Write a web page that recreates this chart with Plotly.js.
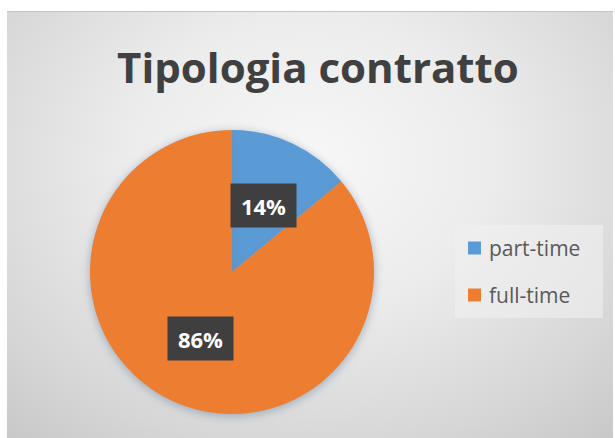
<!DOCTYPE html>
<html><head><meta charset="utf-8">
<script src="https://cdn.plot.ly/plotly-3.0.1.min.js"></script>
<style>
html,body{margin:0;padding:0;background:#fff;width:615px;height:438px;overflow:hidden;}
#bg{position:absolute;left:7px;top:11px;width:606px;height:427px;
background:radial-gradient(ellipse 75% 85% at 50% 35%, #f7f7f7 0%, #ececec 40%, #d6d6d6 80%, #c9c9c9 100%);
border-top:1px solid #c4c4c4;}
#chart{position:absolute;left:0;top:0;width:615px;height:438px;}
#chart .pielayer path.surface{filter:drop-shadow(0px 2px 5px rgba(110,135,160,0.6));}
</style></head>
<body>
<div id="bg"></div>
<div id="chart"></div>
<script>
const labels = ["part-time", "full-time"];
const values = [14, 86];
const colors = ["#5B9BD5", "#ED7D31"];
const titleText = "Tipologia contratto";

const W = 615, H = 438;
const cx = 232, cy = 272, R = 142;
const domX = [(cx - R) / W, (cx + R) / W];
const domY = [1 - (cy + R) / H, 1 - (cy - R) / H];

const total = values.reduce((a, b) => a + b, 0);
let cum = 0;
const annotations = values.map((v, i) => {
  const mid = (cum + v / 2) / total * 2 * Math.PI;
  cum += v;
  const rr = 0.52 * R;
  const px = cx + rr * Math.sin(mid);
  const py = cy - rr * Math.cos(mid);
  return {
    x: px / W, y: 1 - py / H, xref: "paper", yref: "paper",
    text: Math.round(v / total * 100) + "%",
    showarrow: false,
    font: {family: "Open Sans, sans-serif", size: 22, color: "#ffffff", weight: "bold"},
    bgcolor: "#3f3f3f", borderpad: 7, width: 51, height: 29, align: "center", valign: "middle",
    xanchor: "center", yanchor: "middle"
  };
});

// Legend (manual, for Excel-like spacing)
const legX0 = 455, legY0 = 225, legX1 = 603, legY1 = 318;
const itemY0 = 248, itemGap = 47;
const shapes = [{
  type: "rect", xref: "paper", yref: "paper",
  x0: legX0 / W, x1: legX1 / W, y0: 1 - legY1 / H, y1: 1 - legY0 / H,
  fillcolor: "rgba(240,240,240,0.6)", line: {width: 0}, layer: "below"
}];
labels.forEach((lab, i) => {
  const yc = itemY0 + i * itemGap;
  shapes.push({
    type: "rect", xref: "paper", yref: "paper",
    x0: 468 / W, x1: 481 / W, y0: 1 - (yc + 6.5) / H, y1: 1 - (yc - 6.5) / H,
    fillcolor: colors[i], line: {width: 0}
  });
  annotations.push({
    x: 487 / W, y: 1 - yc / H, xref: "paper", yref: "paper",
    text: lab, showarrow: false, xanchor: "left", yanchor: "middle",
    font: {family: "Open Sans, sans-serif", size: 21, color: "#595959"}
  });
});

const trace = {
  type: "pie", labels: labels, values: values,
  marker: {colors: colors, line: {width: 0}},
  sort: false, direction: "clockwise", rotation: 0,
  textinfo: "none", hoverinfo: "label+percent",
  domain: {x: domX, y: domY}
};

const layout = {
  width: W, height: H,
  margin: {l: 0, r: 0, t: 0, b: 0},
  paper_bgcolor: "rgba(0,0,0,0)", plot_bgcolor: "rgba(0,0,0,0)",
  title: {text: "<b>" + titleText + "</b>", x: 0.517, xanchor: "center", y: 0.843, yanchor: "middle",
    font: {family: "Open Sans, sans-serif", size: 42, color: "#404040"}},
  showlegend: false,
  annotations: annotations,
  shapes: shapes
};

Plotly.newPlot("chart", [trace], layout, {displayModeBar: false, staticPlot: true});
</script>
</body></html>
